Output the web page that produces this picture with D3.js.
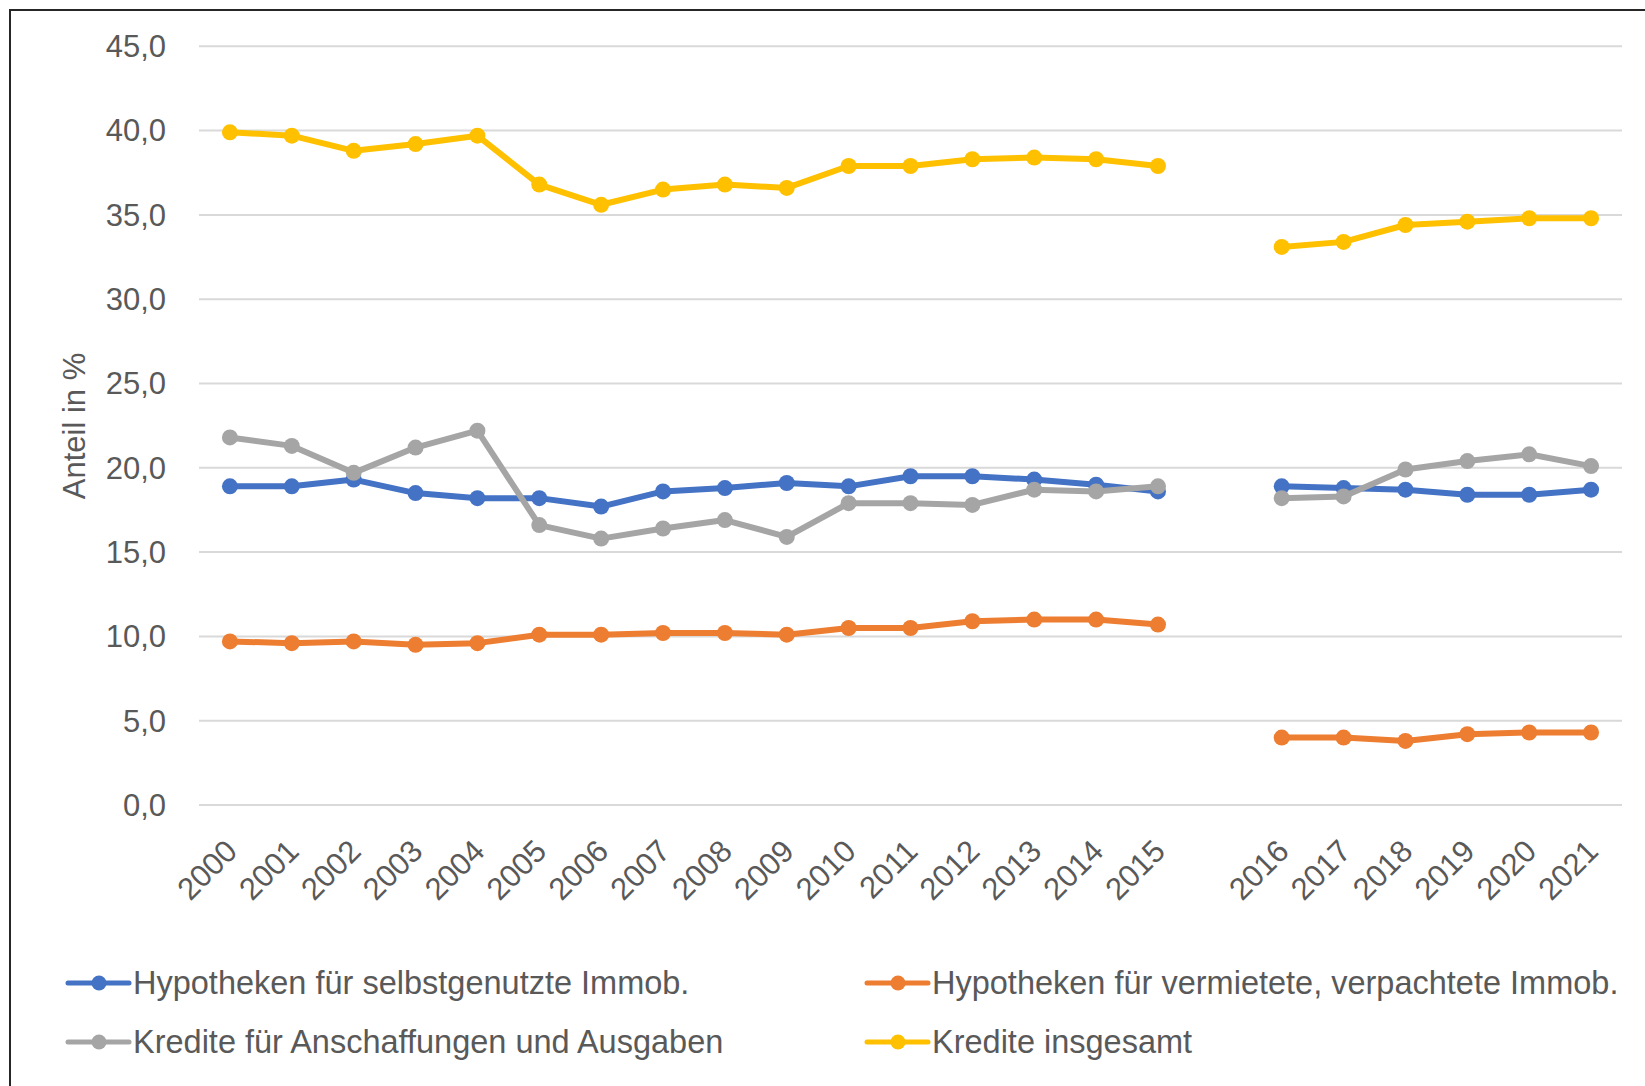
<!DOCTYPE html>
<html>
<head>
<meta charset="utf-8">
<script src="https://cdn.jsdelivr.net/npm/d3@7"></script>
<style>
  body { margin: 0; background: #fff; }
  svg { display: block; font-family: "Liberation Sans", Arial, sans-serif; }
</style>
</head>
<body>
<svg id="chart"></svg>
<script>
// categories (the empty entry is the gap between 2015 and 2016)
const categories = ['2000','2001','2002','2003','2004','2005','2006','2007','2008','2009','2010',
  '2011','2012','2013','2014','2015','','2016','2017','2018','2019','2020','2021'];
const years = categories.filter(d => d !== '');
const yTicks = [0, 5, 10, 15, 20, 25, 30, 35, 40, 45];

// values per year, 2000..2021
const selbstgenutzt = [18.9,18.9,19.3,18.5,18.2,18.2,17.7,18.6,18.8,19.1,18.9,19.5,19.5,19.3,19.0,18.6,
  18.9,18.8,18.7,18.4,18.4,18.7];
const vermietet = [9.7,9.6,9.7,9.5,9.6,10.1,10.1,10.2,10.2,10.1,10.5,10.5,10.9,11.0,11.0,10.7,
  4.0,4.0,3.8,4.2,4.3,4.3];
const anschaffungen = [21.8,21.3,19.7,21.2,22.2,16.6,15.8,16.4,16.9,15.9,17.9,17.9,17.8,18.7,18.6,18.9,
  18.2,18.3,19.9,20.4,20.8,20.1];
const insgesamt = [39.9,39.7,38.8,39.2,39.7,36.8,35.6,36.5,36.8,36.6,37.9,37.9,38.3,38.4,38.3,37.9,
  33.1,33.4,34.4,34.6,34.8,34.8];

const series = [
  {name: 'Hypotheken für selbstgenutzte Immob.', color: '#4472C4', values: selbstgenutzt},
  {name: 'Hypotheken für vermietete, verpachtete Immob.', color: '#ED7D31', values: vermietet},
  {name: 'Kredite für Anschaffungen und Ausgaben', color: '#A5A5A5', values: anschaffungen},
  {name: 'Kredite insgesamt', color: '#FFC000', values: insgesamt}
];

const width = 1645, height = 1086;
const textColor = '#595959';

const svg = d3.select('#chart')
    .attr('width', width)
    .attr('height', height);

svg.append('rect')
    .attr('width', width).attr('height', height)
    .attr('fill', '#fff');

// outer frame (cut off on the right and bottom)
svg.append('rect')
    .attr('x', 10).attr('y', 10)
    .attr('width', 1800).attr('height', 1300)
    .attr('fill', 'none')
    .attr('stroke', '#262626')
    .attr('stroke-width', 2);

const x = d3.scaleBand().domain(categories).range([199, 1622]);
const y = d3.scaleLinear().domain([0, 45]).range([805, 46.3]);
const cx = (d) => x(d) + x.bandwidth() / 2;

const de = d3.formatLocale({decimal: ',', thousands: '.', grouping: [3], currency: ['', '€']});
const fmt = de.format('.1f');

// gridlines
svg.append('g')
  .selectAll('line')
  .data(yTicks)
  .join('line')
    .attr('x1', 199).attr('x2', 1622)
    .attr('y1', (d) => y(d)).attr('y2', (d) => y(d))
    .attr('stroke', '#d9d9d9')
    .attr('stroke-width', 2);

// y labels
svg.append('g')
  .selectAll('text')
  .data(yTicks)
  .join('text')
    .attr('x', 166)
    .attr('y', (d) => y(d))
    .attr('dy', '0.35em')
    .attr('text-anchor', 'end')
    .attr('font-size', 31)
    .attr('fill', textColor)
    .text((d) => fmt(d));

svg.append('text')
    .attr('transform', 'translate(85,426) rotate(-90)')
    .attr('text-anchor', 'middle')
    .attr('font-size', 31)
    .attr('fill', textColor)
    .text('Anteil in %');

// x labels
svg.append('g')
  .selectAll('text')
  .data(years)
  .join('text')
    .attr('transform', (d) => 'translate(' + (cx(d) + 9) + ',853) rotate(-45)')
    .attr('text-anchor', 'end')
    .attr('font-size', 31)
    .attr('fill', textColor)
    .text((d) => d);

// lines, split into the two periods
const line = d3.line()
    .x((d) => cx(d.year))
    .y((d) => y(d.value));

series.forEach((s) => {
  const pts = years.map((yr, i) => ({year: yr, value: s.values[i]}));
  const parts = [pts.filter((d) => +d.year <= 2015), pts.filter((d) => +d.year >= 2016)];
  const g = svg.append('g');

  g.selectAll('path')
    .data(parts)
    .join('path')
      .attr('d', line)
      .attr('fill', 'none')
      .attr('stroke', s.color)
      .attr('stroke-width', 6)
      .attr('stroke-linejoin', 'round');

  g.selectAll('circle')
    .data(pts)
    .join('circle')
      .attr('cx', (d) => cx(d.year))
      .attr('cy', (d) => y(d.value))
      .attr('r', 8)
      .attr('fill', s.color);
});

// legend
const legendPos = [[68, 983], [867, 983], [68, 1042], [867, 1042]];
const legend = svg.append('g')
  .selectAll('g')
  .data(series)
  .join('g')
    .attr('transform', (d, i) => 'translate(' + legendPos[i][0] + ',' + legendPos[i][1] + ')');

legend.append('line')
    .attr('x1', 0).attr('x2', 61)
    .attr('stroke', (d) => d.color)
    .attr('stroke-width', 5)
    .attr('stroke-linecap', 'round');

legend.append('circle')
    .attr('cx', 31).attr('r', 7.5)
    .attr('fill', (d) => d.color);

legend.append('text')
    .attr('x', 65)
    .attr('dy', '0.35em')
    .attr('font-size', 32.5)
    .attr('fill', textColor)
    .text((d) => d.name);
</script>
</body>
</html>
